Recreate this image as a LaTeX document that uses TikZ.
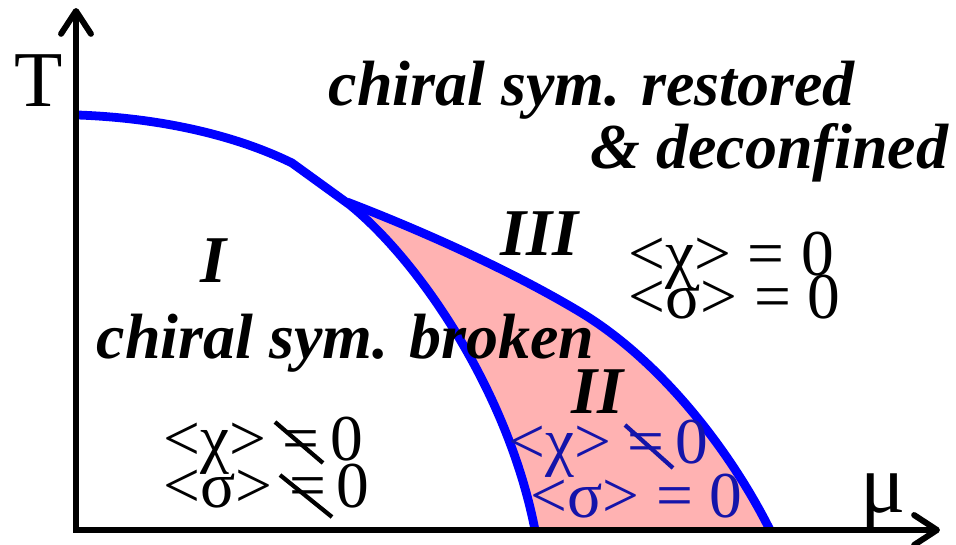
\documentclass[tikz,border=0pt]{standalone}
\usepackage{fontspec}
\setmainfont{Liberation Serif}
\usetikzlibrary{arrows.meta}
\definecolor{pinkfill}{RGB}{255,178,178}
\definecolor{darkblue}{RGB}{20,20,170}
\definecolor{lineblue}{RGB}{0,0,255}
\begin{document}
\begin{tikzpicture}[x=0.01cm,y=-0.01cm,
  axisline/.style={line width=1.7pt, line join=miter},
  barb/.tip={Straight Barb[length=6.5pt,width=8.5pt,line width=1.7pt,round]},
  phase/.style={draw=lineblue, line width=2.5pt},
  lbl/.style={anchor=base west, inner sep=0pt, font=\fontsize{18.2}{21}\selectfont\bfseries\itshape},
  numlbl/.style={anchor=base west, inner sep=0pt, font=\fontsize{19}{22}\selectfont\bfseries\itshape},
  vev/.style={anchor=base west, inner sep=0pt, font=\fontsize{18.6}{20}\selectfont},
  slash/.style={line width=1.2pt, line cap=butt}
]
\useasboundingbox (0,0) rectangle (956,545);

% coordinates
\coordinate (ytip) at (76,8);
\coordinate (orig) at (76,530);
\coordinate (xtip) at (940,530);
\coordinate (tc) at (78,115);
\coordinate (kink) at (292,163);
\coordinate (junc) at (350,205);
\coordinate (juncB) at (347,202);
\coordinate (mid) at (580,312);
\coordinate (endB) at (770,530);
\coordinate (endA) at (535,530);

% pink region
\fill[pinkfill] (junc) .. controls (420,230) and (510,270) .. (mid)
  .. controls (660,360) and (730,450) .. (endB) -- (endA)
  .. controls (508,392) and (420,262) .. (junc) -- cycle;

% phase boundaries
\draw[phase] (tc) .. controls (160,118) and (235,135) .. (kink) -- (junc)
  .. controls (420,262) and (508,392) .. (endA);
\draw[phase] (juncB) .. controls (420,230) and (510,270) .. (mid)
  .. controls (660,360) and (730,450) .. (endB);

% axes
\draw[axisline, barb-barb] (ytip) -- (orig) -- (xtip);

% axis labels
\node[anchor=base west, inner sep=0pt, font=\fontsize{22.5}{24}\selectfont] (T) at (14,106) {T};
\node[anchor=base west, inner sep=0pt, font=\fontsize{24}{26}\selectfont] (mu) at (860,512) {μ};

% region texts
\node[lbl] (restored) at (328,105) {chiral sym. restored};
\node[lbl] (deconf) at (590,168) {\& deconfined};
\node[numlbl] (rI) at (200,282) {I};
\node[lbl] (broken) at (96,358) {chiral sym. broken};
\node[numlbl] (rIII) at (500,255) {III};
\node[numlbl] (rII) at (571,413) {II};

% condensates
\node[vev] (c3) at (628,275) {<χ> = 0};
\node[vev] (s3) at (628,318) {<σ> = 0};
\node[vev] (c1) at (163,460) {<χ> =\,0};
\node[vev] (s1) at (163,508) {<σ> =\,0};
\node[vev, text=darkblue] (c2) at (508,463) {<χ> =\,0};
\node[vev, text=darkblue] (s2) at (530,517) {<σ> = 0};

% strike-through of not-equal signs
\draw[slash] (275,422) -- (323,463);
\draw[slash] (280,475) -- (332,517);
\draw[slash, darkblue] (625,425) -- (673,468);
\end{tikzpicture}
\end{document}
